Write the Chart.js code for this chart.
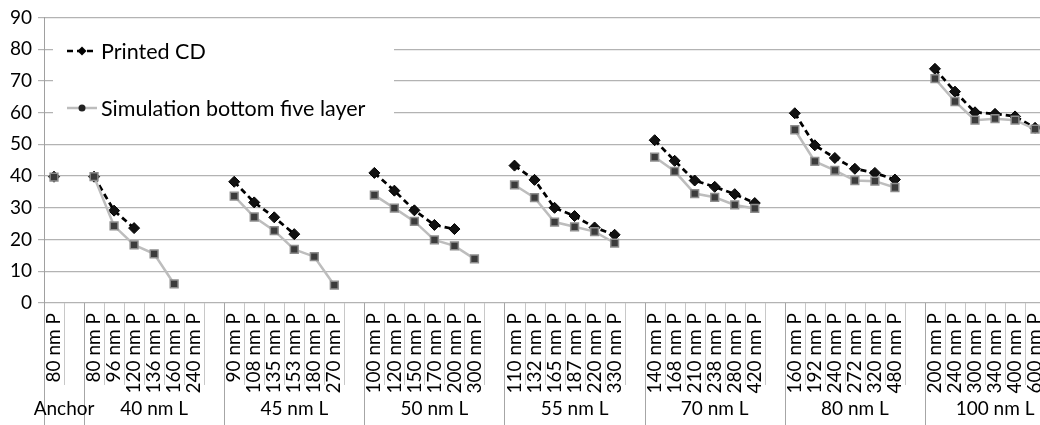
<!DOCTYPE html>
<html>
<head>
<meta charset="utf-8">
<script src="https://cdn.jsdelivr.net/npm/chart.js@4.4.1/dist/chart.umd.min.js"></script>
<style>
  html, body { margin: 0; padding: 0; background: #fff; overflow: hidden; }
  #wrap { position: relative; width: 1080px; height: 425px; }
  #cd-chart { display: block; }
</style>
</head>
<body>
<div id="wrap"><canvas id="cd-chart" width="1080" height="425"></canvas></div>
<script>
// line groups and the pitches printed in each one
const groups = ["Anchor", "40 nm L", "45 nm L", "50 nm L", "55 nm L", "70 nm L", "80 nm L", "100 nm L"];
const pitches = [
  [80],
  [80, 96, 120, 136, 160, 240],
  [90, 108, 135, 153, 180, 270],
  [100, 120, 150, 170, 200, 300],
  [110, 132, 165, 187, 220, 330],
  [140, 168, 210, 238, 280, 420],
  [160, 192, 240, 272, 320, 480],
  [200, 240, 300, 340, 400, 600]
];
const printedCD = [
  [39.8],
  [39.8, 29.1, 23.6, null, null, null],
  [38.2, 31.7, 27.0, 21.7, null, null],
  [41.0, 35.4, 29.2, 24.6, 23.3, null],
  [43.3, 38.8, 30.0, 27.4, 23.8, 21.5],
  [51.3, 44.8, 38.6, 36.6, 34.3, 31.5],
  [59.8, 49.7, 45.7, 42.3, 41.0, 38.9],
  [73.8, 66.6, 60.1, 59.6, 58.8, 55.2]
];
const simBottomFive = [
  [39.7],
  [39.8, 24.3, 18.3, 15.5, 6.0, null],
  [33.7, 27.1, 22.8, 16.9, 14.6, 5.6],
  [34.0, 29.9, 25.7, 19.9, 18.0, 13.9],
  [37.2, 33.2, 25.5, 24.0, 22.5, 18.9],
  [46.0, 41.5, 34.5, 33.3, 30.9, 29.8],
  [54.6, 44.6, 41.8, 38.6, 38.4, 36.4],
  [70.7, 63.5, 57.6, 58.1, 57.6, 54.8]
];
const yMin = 0, yMax = 90, yStep = 10;

// flatten: every group is followed by one empty slot
const labels = [], printedData = [], simData = [], spans = [];
groups.forEach((g, gi) => {
  const start = labels.length;
  pitches[gi].forEach((p, i) => {
    labels.push(p + " nm P");
    printedData.push(printedCD[gi][i]);
    simData.push(simBottomFive[gi][i]);
  });
  labels.push("");
  printedData.push(null);
  simData.push(null);
  spans.push({ name: g, start: start, end: labels.length });
});

const FONT = "Lato, 'Open Sans', sans-serif";

const decorPlugin = {
  id: "decor",
  afterDraw(chart) {
    const ctx = chart.ctx;
    const x = chart.scales.x;
    const area = chart.chartArea;
    const half = (x.getPixelForValue(1) - x.getPixelForValue(0)) / 2;
    const edge = (i) => x.getPixelForValue(i) - half;
    const groupEdges = new Set(spans.map((s) => s.start).concat([labels.length]));

    ctx.save();
    // separators under the axis
    for (let i = 0; i <= labels.length; i++) {
      const px = Math.round(edge(i)) + 0.5;
      ctx.beginPath();
      ctx.strokeStyle = groupEdges.has(i) ? "#a6a6a6" : "#c8c8c8";
      ctx.lineWidth = 1;
      ctx.moveTo(px, area.bottom);
      ctx.lineTo(px, groupEdges.has(i) ? 425 : 385);
      ctx.stroke();
    }
    // group names
    ctx.fillStyle = "#000";
    ctx.font = "19px " + FONT;
    ctx.textAlign = "center";
    ctx.textBaseline = "middle";
    spans.forEach((s) => {
      const cx = (edge(s.start) + edge(s.end)) / 2;
      ctx.fillText(s.name, cx, 409);
    });

    // legend inside the plot
    ctx.fillStyle = "#fff";
    ctx.fillRect(53, 28, 341, 100);
    ctx.font = "21.5px " + FONT;
    ctx.textAlign = "left";
    ctx.fillStyle = "#000";

    // Printed CD
    ctx.beginPath();
    ctx.setLineDash([6, 4]);
    ctx.strokeStyle = "#000";
    ctx.lineWidth = 2.5;
    ctx.moveTo(67, 51);
    ctx.lineTo(97, 51);
    ctx.stroke();
    ctx.setLineDash([]);
    ctx.beginPath();
    ctx.moveTo(82, 46.5); ctx.lineTo(86.5, 51); ctx.lineTo(82, 55.5); ctx.lineTo(77.5, 51);
    ctx.closePath();
    ctx.fill();
    ctx.fillText("Printed CD", 101, 52);

    // Simulation
    ctx.beginPath();
    ctx.strokeStyle = "#bdbdbd";
    ctx.lineWidth = 2.5;
    ctx.moveTo(67, 108);
    ctx.lineTo(97, 108);
    ctx.stroke();
    ctx.beginPath();
    ctx.fillStyle = "#222";
    ctx.arc(82, 108, 3.5, 0, Math.PI * 2);
    ctx.fill();
    ctx.fillStyle = "#000";
    ctx.fillText("Simulation bottom five layer", 101, 109);
    ctx.restore();
  }
};

new Chart(document.getElementById("cd-chart"), {
  type: "line",
  data: {
    labels: labels,
    datasets: [
      {
        label: "Printed CD",
        data: printedData,
        order: 1,
        borderColor: "#000",
        borderWidth: 2.75,
        borderDash: [6, 4],
        pointStyle: "rectRot",
        pointRadius: 5.5,
        pointBackgroundColor: "#111",
        pointBorderColor: "#000",
        pointBorderWidth: 1,
        spanGaps: false,
        tension: 0
      },
      {
        label: "Simulation bottom five layer",
        data: simData,
        order: 0,
        borderColor: "#bdbdbd",
        borderWidth: 2.5,
        pointStyle: "rect",
        pointRadius: 5.5,
        pointBackgroundColor: "#3c3c3c",
        pointBorderColor: "#8e8e8e",
        pointBorderWidth: 1.5,
        spanGaps: false,
        tension: 0
      }
    ]
  },
  options: {
    responsive: false,
    animation: false,
    maintainAspectRatio: false,
    layout: { padding: { top: 14, right: 11, bottom: 0, left: 0 } },
    plugins: { legend: { display: false }, tooltip: { enabled: false } },
    scales: {
      x: {
        type: "category",
        offset: true,
        grid: { display: false },
        border: { display: false },
        ticks: {
          autoSkip: false,
          minRotation: 90,
          maxRotation: 90,
          padding: 2,
          color: "#000",
          font: { family: FONT, size: 19 }
        },
        afterFit: (scale) => { scale.height = 122; }
      },
      y: {
        min: yMin,
        max: yMax,
        ticks: {
          stepSize: yStep,
          padding: 6,
          color: "#000",
          font: { family: FONT, size: 19 }
        },
        grid: { color: "#b3b3b3", lineWidth: 1.2, tickLength: 6 },
        border: { color: "#a0a0a0", width: 1 },
        afterFit: (scale) => { scale.width = 44; }
      }
    }
  },
  plugins: [decorPlugin]
});
</script>
</body>
</html>
